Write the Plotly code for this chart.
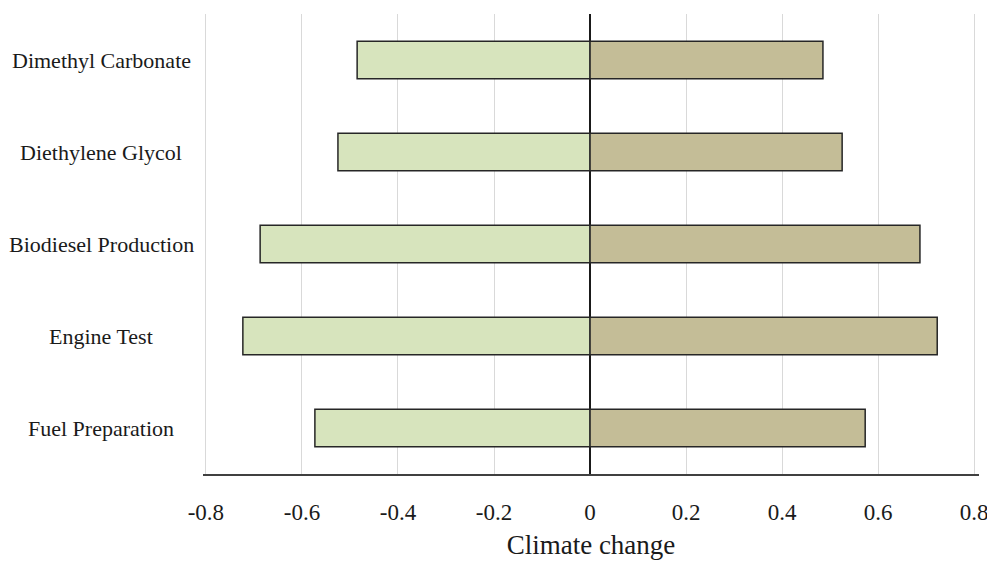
import plotly.graph_objects as go

categories = ["Dimethyl Carbonate", "Diethylene Glycol", "Biodiesel Production", "Engine Test", "Fuel Preparation"]
left_values = [-0.485, -0.525, -0.687, -0.723, -0.573]
right_values = [0.485, 0.525, 0.687, 0.723, 0.573]
tick_values = [-0.8, -0.6, -0.4, -0.2, 0, 0.2, 0.4, 0.6, 0.8]
tick_labels = ["-0.8", "-0.6", "-0.4", "-0.2", "0", "0.2", "0.4", "0.6", "0.8"]
x_title = "Climate change"

FONT = "Liberation Serif, Times New Roman, serif"

fig = go.Figure()
fig.add_trace(go.Bar(
    y=categories, x=left_values, orientation="h", width=0.41,
    marker=dict(color="#D7E4BD", line=dict(color="#262626", width=1.5)),
    showlegend=False, hoverinfo="x+y",
))
fig.add_trace(go.Bar(
    y=categories, x=right_values, orientation="h", width=0.41,
    marker=dict(color="#C4BD97", line=dict(color="#262626", width=1.5)),
    showlegend=False, hoverinfo="x+y",
))

for c in categories:
    fig.add_annotation(
        x=-0.131, xref="paper", y=c, yref="y", text=c, showarrow=False,
        xanchor="center", yanchor="middle",
        font=dict(family=FONT, size=22, color="#1a1a1a"),
    )

fig.update_layout(
    width=987, height=553,
    margin=dict(l=195, r=14, t=6, b=83),
    paper_bgcolor="white", plot_bgcolor="white",
    barmode="relative",
    font=dict(family=FONT, color="#1a1a1a"),
    xaxis=dict(
        range=[-0.806, 0.81],
        tickvals=tick_values, ticktext=tick_labels,
        tickfont=dict(family=FONT, size=23, color="#1a1a1a"),
        showgrid=True, gridcolor="#D9D9D9", gridwidth=1,
        zeroline=True, zerolinecolor="#1a1a1a", zerolinewidth=1.5,
        showline=True, linecolor="#404040", linewidth=2,
        ticks="", ticklabelstandoff=16,
        title=dict(text=x_title, font=dict(family=FONT, size=27, color="#1a1a1a"), standoff=12),
        fixedrange=True,
    ),
    yaxis=dict(
        categoryorder="array", categoryarray=categories,
        autorange="reversed",
        showticklabels=False, showgrid=False, zeroline=False, showline=False,
        ticks="",
    ),
)

fig.write_html("out.html")
